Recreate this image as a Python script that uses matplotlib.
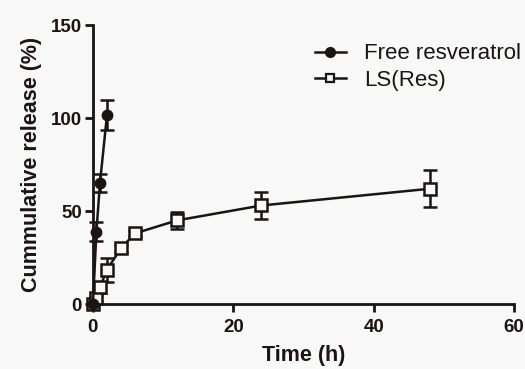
import matplotlib
matplotlib.use("Agg")
import matplotlib.pyplot as plt
from matplotlib.lines import Line2D

plt.rcParams['font.family'] = ['Liberation Sans', 'DejaVu Sans']

free_t = [0, 0.5, 1, 2]
free_v = [0, 39, 65, 101.5]
free_e = [0, 5, 5, 8]

ls_t = [0, 0.5, 1, 2, 4, 6, 12, 24, 48]
ls_v = [0, 3, 9, 18.5, 30, 38, 45, 53, 62]
ls_e = [0, 1.5, 3, 6.5, 2, 1.5, 4.5, 7, 10]

xticks = [0, 20, 40, 60]
yticks = [0, 50, 100, 150]

col = '#1c1410'
bg = '#f8f8f8'

fig = plt.figure(figsize=(5.25, 3.69), dpi=100, facecolor=bg)
ax = fig.add_axes([0.177, 0.176, 0.802, 0.756], facecolor=bg)

ax.errorbar(free_t, free_v, yerr=free_e, color=col, marker='o', ms=7.5,
            mfc=col, mec=col, lw=1.8, capsize=5, capthick=1.8, elinewidth=1.8,
            clip_on=False, zorder=4)
ax.errorbar(ls_t, ls_v, yerr=ls_e, color=col, marker='s', ms=8.5,
            mfc=bg, mec=col, mew=1.8, lw=1.8, capsize=5, capthick=1.8,
            elinewidth=1.8, clip_on=False, zorder=3)

ax.set_xlim(0, 60)
ax.set_ylim(0, 150)
ax.set_xticks(xticks)
ax.set_yticks(yticks)
for s in ['top', 'right']:
    ax.spines[s].set_visible(False)
for s in ['left', 'bottom']:
    ax.spines[s].set_linewidth(2)
    ax.spines[s].set_color(col)
ax.tick_params(axis='both', direction='out', length=6, width=2, color=col,
               labelsize=13.5, labelcolor=col)
ax.tick_params(axis='x', pad=5)
ax.tick_params(axis='y', pad=2)
for lab in ax.get_xticklabels() + ax.get_yticklabels():
    lab.set_fontweight('bold')

ax.set_xlabel('Time (h)', fontsize=15.5, fontweight='bold', color=col, labelpad=6)
ax.set_ylabel('Cummulative release (%)', fontsize=15.5, fontweight='bold', color=col, labelpad=6)

h1 = Line2D([], [], color=col, marker='o', ms=7, mfc=col, mec=col, lw=1.8)
h2 = Line2D([], [], color=col, marker='s', ms=6, mfc=bg, mec=col, mew=1.6, lw=1.8)
leg = ax.legend([h1, h2], ['Free resveratrol', 'LS(Res)'], loc='upper left',
                bbox_to_anchor=(0.49, 0.99), frameon=False, fontsize=16,
                handlelength=1.4, handletextpad=0.8, labelspacing=0.25,
                borderpad=0.2)
for t in leg.get_texts():
    t.set_color(col)

fig.savefig('out.png', dpi=100, facecolor=bg)
